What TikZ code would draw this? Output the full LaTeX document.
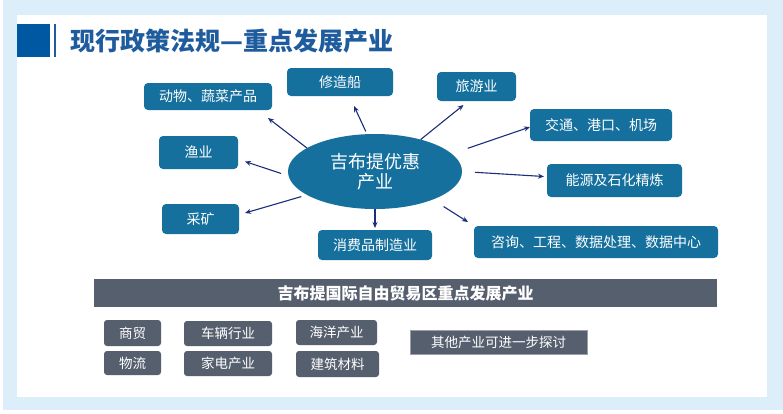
\documentclass[tikz,border=0pt]{standalone}
\usepackage{fontspec}
\setmainfont{Noto Sans CJK SC}
\usetikzlibrary{shapes.geometric, arrows.meta}
\definecolor{framebg}{HTML}{DDEEFB}
\definecolor{boxblue}{HTML}{15709E}
\definecolor{titleblue}{HTML}{1F5C9E}
\definecolor{squareblue}{HTML}{0058A3}
\definecolor{slate}{HTML}{565F6E}
\definecolor{arrownavy}{HTML}{1B2D7C}

\begin{document}
\begin{tikzpicture}[x=1pt, y=-1pt, >={Stealth[length=6pt, width=5pt]},
    bluebox/.style={rectangle, rounded corners=4pt, fill=boxblue, text=white,
      inner sep=0pt, outer sep=0pt, font=\fontsize{14}{16}\selectfont},
    hubnode/.style={ellipse, fill=boxblue, text=white, inner sep=0pt,
      outer sep=0pt, align=center, font=\fontsize{18}{20}\selectfont},
    graybox/.style={rectangle, rounded corners=3pt, fill=slate, text=white,
      inner sep=0pt, font=\fontsize{13.5}{15}\selectfont},
    link/.style={draw=arrownavy, line width=1.1pt}]
  \useasboundingbox (0,0) rectangle (783,413);
  % frame
  \fill[framebg] (3,0) rectangle (783,410);
  \fill[white] (17,15) rectangle (767,397);
  % title
  \fill[squareblue] (17,24) rectangle (50,57);
  \draw[titleblue, line width=1.5pt] (55,24) -- (55,57);
  \node[anchor=west, inner sep=0pt, text=titleblue,
    font=\fontsize{25}{28}\selectfont\bfseries] (title) at (70,41)
    {现行政策法规—重点发展产业};
  % hub and branches
  \node[hubnode, minimum width=174pt, minimum height=75pt] (hub) at (375,171.5) {吉布提优惠\\产业};
  \node[bluebox, minimum width=128pt, minimum height=27pt] (dongwu) at (208,96.5) {动物、蔬菜产品};
  \node[bluebox, minimum width=106pt, minimum height=28pt] (xiuzao) at (340,82) {修造船};
  \node[bluebox, minimum width=79pt, minimum height=29pt] (lvyou) at (476.5,86.5) {旅游业};
  \node[bluebox, minimum width=142pt, minimum height=32pt] (jiaotong) at (601,125) {交通、港口、机场};
  \node[bluebox, minimum width=135pt, minimum height=33pt] (nengyuan) at (614.5,180.5) {能源及石化精炼};
  \node[bluebox, minimum width=244pt, minimum height=32pt] (zixun) at (596,242) {咨询、工程、数据处理、数据中心};
  \node[bluebox, minimum width=79pt, minimum height=33pt] (yuye) at (198.5,152.5) {渔业};
  \node[bluebox, minimum width=77pt, minimum height=30pt] (caikuang) at (200.5,219) {采矿};
  \node[bluebox, minimum width=114pt, minimum height=30pt] (xiaofei) at (375,245) {消费品制造业};
  \draw[->, link] (hub.161) -- ([shift={(-4,8)}]dongwu.south east);
  \draw[->, link, shorten <=3pt] (hub.102) -- ([shift={(14,10)}]xiuzao.south);
  \draw[->, link] (hub.35) -- ([shift={(-13,4)}]lvyou.south);
  \draw[->, link, shorten <=17pt] (hub.13) -- ([shift={(0,2)}]jiaotong.west);
  \draw[->, link, shorten <=13pt] (hub.0) -- ([shift={(-3,-4)}]nengyuan.west);
  \draw[->, link, shorten <=13pt] (hub.-26) -- ([shift={(-6,-4)}]zixun.north west);
  \draw[->, link, shorten <=8pt] (hub.183) -- ([shift={(7,9)}]yuye.east);
  \draw[->, link, shorten <=6pt] (hub.199) -- ([shift={(6,-6)}]caikuang.east);
  \draw[->, link, shorten >=2pt] (hub.south) -- (xiaofei.north);
  % free trade zone
  \node[rectangle, fill=slate, text=white, inner sep=0pt, minimum width=623pt,
    minimum height=28pt, font=\fontsize{16}{18}\selectfont\bfseries] (zone) at (405.5,293)
    {吉布提国际自由贸易区重点发展产业};
  \node[graybox, minimum width=57pt, minimum height=26pt] (shangmao) at (132.5,333) {商贸};
  \node[graybox, minimum width=57pt, minimum height=24pt] (wuliu) at (132.5,363) {物流};
  \node[graybox, minimum width=88pt, minimum height=25pt] (cheliang) at (228,333.5) {车辆行业};
  \node[graybox, minimum width=88pt, minimum height=25pt] (jiadian) at (228,363.5) {家电产业};
  \node[graybox, minimum width=81pt, minimum height=25pt] (haiyang) at (336.5,332.5) {海洋产业};
  \node[graybox, minimum width=83pt, minimum height=26pt] (jianzhu) at (337.5,364) {建筑材料};
  \node[graybox, rounded corners=0pt, draw=slate!60!white, thin, minimum width=177pt,
    minimum height=24pt] (qita) at (498.5,342) {其他产业可进一步探讨};
\end{tikzpicture}
\end{document}
